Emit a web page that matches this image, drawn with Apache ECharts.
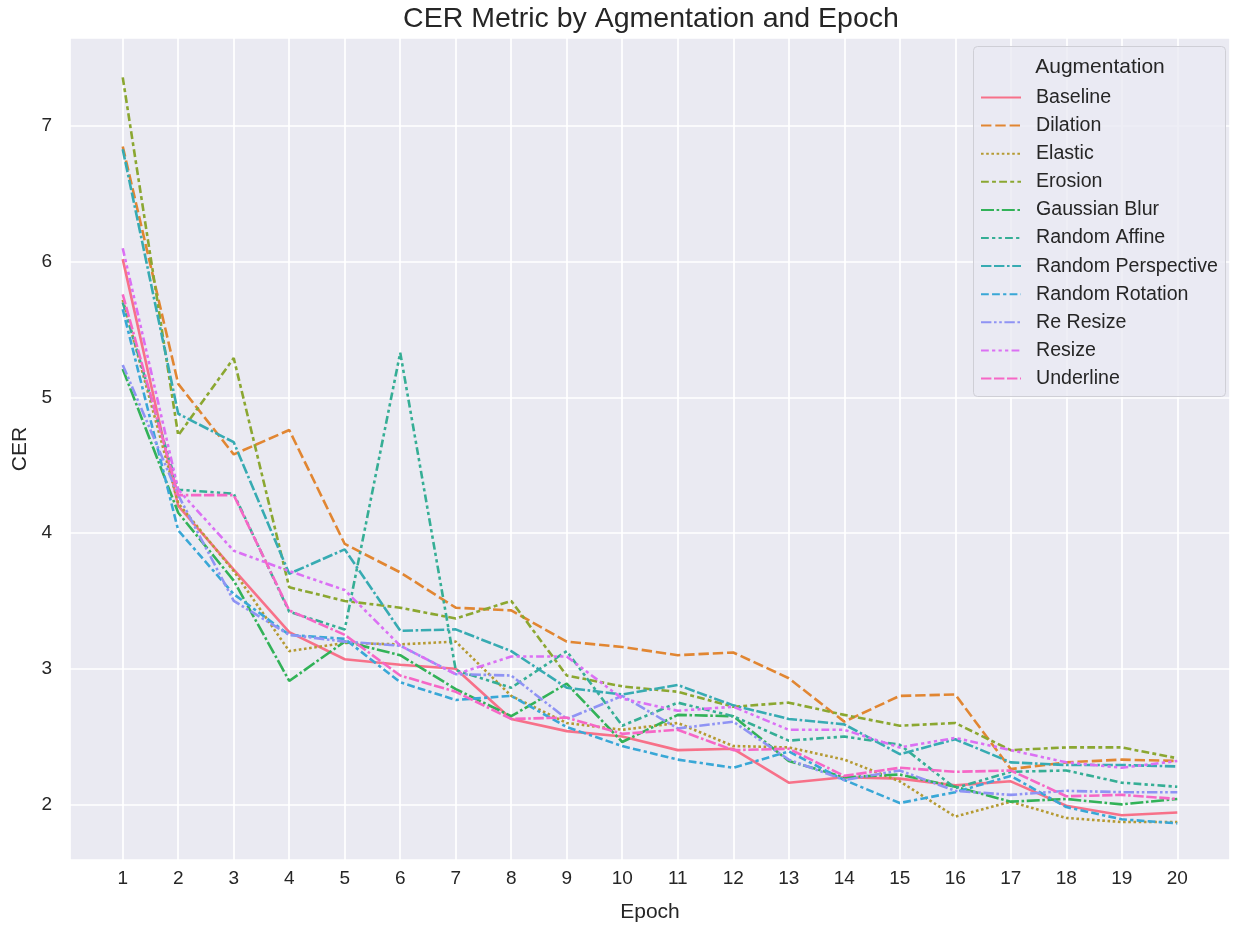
<!DOCTYPE html>
<html>
<head>
<meta charset="utf-8">
<script src="https://cdn.jsdelivr.net/npm/echarts@6/dist/echarts.min.js"></script>
<style>
html,body{margin:0;padding:0;background:#ffffff;}
#chart{width:1238px;height:930px;}
</style>
</head>
<body>
<div id="chart"></div>
<script>
// ---------------- DATA ----------------
const epochs = [1,2,3,4,5,6,7,8,9,10,11,12,13,14,15,16,17,18,19,20];
const seriesNames = ["Baseline","Dilation","Elastic","Erosion","Gaussian Blur","Random Affine",
  "Random Perspective","Random Rotation","Re Resize","Resize","Underline"];

const baseline          = [6.02,4.20,3.73,3.27,3.07,3.03,3.00,2.63,2.54,2.50,2.40,2.41,2.16,2.20,2.19,2.14,2.17,1.99,1.92,1.94];
const dilation          = [6.85,5.10,4.58,4.76,3.92,3.71,3.45,3.43,3.20,3.16,3.10,3.12,2.93,2.61,2.80,2.81,2.26,2.31,2.33,2.32];
const elastic           = [5.72,4.22,3.72,3.13,3.19,3.18,3.20,2.80,2.60,2.55,2.60,2.43,2.42,2.33,2.17,1.91,2.02,1.90,1.87,1.87];
const erosion           = [7.36,4.72,5.29,3.60,3.50,3.45,3.37,3.50,2.95,2.87,2.83,2.72,2.75,2.66,2.58,2.60,2.40,2.42,2.42,2.34];
const gaussianBlur      = [5.21,4.15,3.65,2.91,3.20,3.10,2.85,2.65,2.89,2.46,2.66,2.65,2.32,2.20,2.22,2.13,2.02,2.04,2.00,2.04];
const randomAffine      = [5.70,4.32,4.29,3.42,3.29,5.33,2.99,2.86,3.13,2.58,2.75,2.65,2.47,2.50,2.44,2.12,2.24,2.25,2.16,2.13];
const randomPerspective = [6.83,4.88,4.67,3.70,3.88,3.28,3.29,3.13,2.86,2.81,2.88,2.73,2.63,2.59,2.37,2.48,2.31,2.29,2.29,2.28];
const randomRotation    = [5.65,4.02,3.55,3.25,3.22,2.90,2.77,2.80,2.57,2.43,2.33,2.27,2.39,2.18,2.01,2.09,2.21,1.98,1.89,1.86];
const reResize          = [5.24,4.28,3.50,3.25,3.20,3.17,2.96,2.95,2.63,2.80,2.56,2.61,2.33,2.18,2.25,2.10,2.07,2.10,2.09,2.09];
const resize            = [6.10,4.32,3.87,3.72,3.58,3.17,2.96,3.09,3.09,2.78,2.69,2.72,2.55,2.55,2.42,2.49,2.40,2.31,2.27,2.32];
const underline         = [5.76,4.28,4.28,3.43,3.25,2.95,2.83,2.63,2.64,2.52,2.55,2.40,2.41,2.21,2.27,2.24,2.25,2.06,2.07,2.04];

const allValues = [baseline,dilation,elastic,erosion,gaussianBlur,randomAffine,
  randomPerspective,randomRotation,reResize,resize,underline];

// ---------------- STYLE HELPERS ----------------
function huslToRgb(H, S, L) {
  const m = [[3.2406,-1.5372,-0.4986],[-0.9689,1.8758,0.0415],[0.0557,-0.2040,1.0570]];
  const refU = 0.19784, refV = 0.46834;
  const hr = H * Math.PI / 180, sinH = Math.sin(hr), cosH = Math.cos(hr);
  const sub1 = Math.pow(L + 16, 3) / 1560896;
  const sub2 = sub1 > 0.008856 ? sub1 : L / 903.3;
  let mx = Infinity;
  for (const r of m) {
    const [m1, m2, m3] = r;
    const top = (0.99915*m1 + 1.05122*m2 + 1.14460*m3) * sub2;
    const rb = 0.86330*m3 - 0.17266*m2;
    const lb = 0.12949*m3 - 0.38848*m1;
    const bottom = (rb*sinH + lb*cosH) * sub2;
    for (const t of [0, 1]) {
      const C = L * (top - 1.05122*t) / (bottom + 0.17266*sinH*t);
      if (C > 0 && C < mx) mx = C;
    }
  }
  const C = mx / 100 * S;
  const U = C * cosH, V = C * sinH;
  const fy = (L + 16) / 116;
  const varY = Math.pow(fy, 3) > 0.008856 ? Math.pow(fy, 3) : (116*fy - 16) / 903.3;
  const varU = U / (13*L) + refU, varV = V / (13*L) + refV;
  const Y = varY;
  const X = -(9*Y*varU) / ((varU - 4)*varV - varU*varV);
  const Z = (9*Y - 15*varV*Y - varV*X) / (3*varV);
  const rgb = m.map(r => r[0]*X + r[1]*Y + r[2]*Z)
    .map(c => c <= 0.0031308 ? 12.92*c : 1.055*Math.pow(c, 1/2.4) - 0.055)
    .map(c => Math.round(Math.min(1, Math.max(0, c)) * 255));
  return 'rgb(' + rgb.join(',') + ')';
}
function huslPalette(n) {
  const out = [];
  for (let i = 0; i < n; i++) {
    const h = ((i / n + 0.01) % 1) * 359;
    out.push(huslToRgb(h, 0.9 * 99, 0.65 * 99));
  }
  return out;
}
const colors = huslPalette(seriesNames.length);
const dashUnits = [null,[4,1.5],[1,1],[3,1.25,1.5,1.25],[5,1,1,1],[3,1.25,1.25,1.25,1.25,1.25],
  [4,1,4,1,1,1],[3,1.25,3,1.25,1.25,1.25],[4,1,1,1,1,1],[3,1.25,1.25,1.25,1.25,1.25,1.25,1.25],[4,1,4,1,4,1,1,1]];
const LW = 2.6, DS = 2.6;
const FONT = '"Liberation Sans", Arial, "DejaVu Sans", sans-serif';
const TXT = '#262626';

const series = seriesNames.map((name, i) => ({
  name: name,
  type: 'line',
  data: epochs.map((e, j) => [e, allValues[i][j]]),
  symbol: 'none',
  smooth: false,
  animation: false,
  color: colors[i],
  lineStyle: {
    width: LW,
    color: colors[i],
    type: dashUnits[i] ? dashUnits[i].map(d => d * DS) : 'solid',
    cap: 'butt'
  },
  z: 2
}));

function intLabel(v) {
  const r = Math.round(v);
  return Math.abs(v - r) < 1e-6 ? String(r) : '';
}

const chart = echarts.init(document.getElementById('chart'), null, {renderer: 'canvas'});
chart.setOption({
  animation: false,
  backgroundColor: '#ffffff',
  textStyle: {fontFamily: FONT},
  grid: {
    left: 70, right: 8, top: 38, bottom: 70,
    show: true, backgroundColor: '#eaeaf2', borderWidth: 0
  },
  xAxis: {
    type: 'value',
    min: 0.05, max: 20.95, splitNumber: 20,
    name: 'Epoch', nameLocation: 'middle', nameGap: 42,
    nameTextStyle: {fontFamily: FONT, fontSize: 21, color: TXT},
    axisLine: {show: false}, axisTick: {show: false},
    axisLabel: {formatter: intLabel, fontFamily: FONT, fontSize: 19, color: TXT, margin: 9,
      showMinLabel: true, showMaxLabel: true, hideOverlap: false},
    splitLine: {show: true, lineStyle: {color: '#ffffff', width: 1.7}}
  },
  yAxis: {
    type: 'value',
    min: 1.59, max: 7.65, splitNumber: 6,
    name: 'CER', nameLocation: 'middle', nameGap: 39, nameRotate: 90,
    nameTextStyle: {fontFamily: FONT, fontSize: 21, color: TXT},
    axisLine: {show: false}, axisTick: {show: false},
    axisLabel: {formatter: intLabel, fontFamily: FONT, fontSize: 19, color: TXT, margin: 18},
    splitLine: {show: true, lineStyle: {color: '#ffffff', width: 1.7}}
  },
  legend: {
    orient: 'vertical',
    left: 980, top: 87.5,
    padding: 0,
    itemWidth: 40, itemHeight: 14, itemGap: 8.1,
    itemStyle: {opacity: 0},
    textStyle: {fontFamily: FONT, fontSize: 19.6, color: TXT, padding: [0, 0, 0, 10]},
    data: seriesNames,
    z: 6
  },
  graphic: [
    {
      type: 'text', z: 6,
      x: 651, y: 19,
      style: {text: 'CER Metric by Agmentation and Epoch', fontFamily: FONT, fontSize: 28.5, fill: TXT,
        align: 'center', verticalAlign: 'middle'}
    },
    {
      type: 'rect', z: 5,
      shape: {x: 973.5, y: 46.5, width: 252, height: 350, r: 4},
      style: {fill: 'rgba(234,234,242,0.8)', stroke: '#cfcfd6', lineWidth: 1}
    },
    {
      type: 'text', z: 6,
      x: 1100, y: 67,
      style: {text: 'Augmentation', fontFamily: FONT, fontSize: 21, fill: TXT,
        align: 'center', verticalAlign: 'middle'}
    }
  ],
  series: series
});
</script>
</body>
</html>
